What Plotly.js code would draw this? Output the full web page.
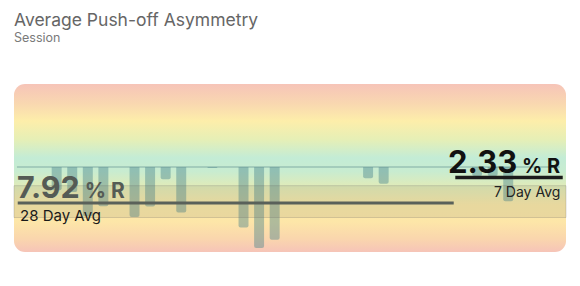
<!DOCTYPE html>
<html>
<head>
<meta charset="utf-8">
<script src="https://cdn.plot.ly/plotly-3.0.1.min.js"></script>
<style>
  html, body { margin: 0; padding: 0; background: #fff; }
  #chart { width: 580px; height: 286px; }
</style>
</head>
<body>
<div id="chart"></div>
<script>
// ---- data ----
// day index within the 35-day window (0..34) that had a session
const sessionDays = [2, 3, 4, 5, 7, 8, 9, 10, 12, 14, 15, 16, 22, 23, 29, 30, 31];
// push-off asymmetry per session, % toward R
const asymmetry = [5.1, 5.5, 10.8, 8.6, 11.0, 8.7, 2.7, 10.0, 0.2, 13.3, 17.8, 16.0, 2.5, 3.7, 2.0, 2.0, 7.5];
// averages
const avgLabels = ["28 Day Avg", "7 Day Avg"];
const avgValues = [7.92, 2.33];
const avgWindows = [[-0.5, 27.5], [27.5, 34.5]];
// typical range band around the 28 day average
const band28 = [4.1, 11.1];
const unitLabel = "% R";
const titleText = "Average Push-off Asymmetry";
const subtitleText = "Session";

// ---- geometry helpers (plot area = card) ----
const W = 580, H = 286;
const L = 14, R = 566, T = 84, B = 252;
const px = x => (x - L) / (R - L);
const py = y => (B - y) / (B - T);

// background card gradient
const stops = [
  [0.00, '#f6c4b8'], [0.12, '#f9d8b0'], [0.22, '#fdeeaa'], [0.33, '#e6efb6'],
  [0.44, '#c3ecd6'], [0.52, '#c8ecd0'], [0.62, '#e3ebb6'], [0.72, '#fbe9a8'],
  [0.82, '#fde6a8'], [0.92, '#fad6ad'], [1.00, '#f6c4b8']
].map(s => `<stop offset='${s[0]}' stop-color='${s[1]}'/>`).join('');
const svg = `<svg xmlns='http://www.w3.org/2000/svg' width='552' height='168' viewBox='0 0 552 168' preserveAspectRatio='none'><defs><linearGradient id='g' x1='0' y1='0' x2='0' y2='1'>${stops}</linearGradient></defs><rect x='0' y='0' width='552' height='168' rx='11' ry='11' fill='url(#g)'/></svg>`;
const bgSrc = 'data:image/svg+xml;charset=utf-8,' + encodeURIComponent(svg);

const bars = {
  type: 'bar',
  x: sessionDays,
  y: asymmetry,
  width: 0.64,
  marker: { color: 'rgba(70,128,138,0.42)', cornerradius: 2, line: { width: 0 } },
  hoverinfo: 'skip'
};

const FONT = 'Inter, "Noto Sans", sans-serif';

const shapes = [
  // zero baseline
  { type: 'line', xref: 'x', yref: 'y', x0: -0.55, x1: 34.3, y0: 0, y1: 0,
    line: { color: 'rgba(95,145,145,0.45)', width: 1.5 }, layer: 'above' },
  // band
  { type: 'rect', xref: 'paper', yref: 'y', x0: 0, x1: 1, y0: band28[0], y1: band28[1],
    fillcolor: 'rgba(110,110,90,0.13)', line: { color: 'rgba(100,100,100,0.24)', width: 1 }, layer: 'above' },
  // 28 day avg line
  { type: 'line', xref: 'x', yref: 'y', x0: avgWindows[0][0], x1: avgWindows[0][1], y0: avgValues[0], y1: avgValues[0],
    line: { color: '#5a615a', width: 3 }, layer: 'above' },
  // 7 day avg line
  { type: 'line', xref: 'x', yref: 'y', x0: avgWindows[1][0] + 0.1, x1: avgWindows[1][1], y0: avgValues[1], y1: avgValues[1],
    line: { color: '#1b1b1b', width: 3.5 }, layer: 'above' }
];

const ann = (text, x, y, xanchor, size, color, weight) => ({
  text, xref: 'paper', yref: 'paper', x: px(x), y: py(y), xanchor, yanchor: 'top',
  showarrow: false, font: { family: FONT, size, color, weight: weight || 400 }
});

const annotations = [
  ann(titleText, 12, 7, 'left', 17.5, '#666666'),
  ann(subtitleText, 12, 27.5, 'left', 12.5, '#7a7a7a'),
  ann(avgValues[0].toFixed(2) + '<span style="font-size:21px"> ' + unitLabel + '</span>', 15, 166, 'left', 30.5, '#555b55', 700),
  ann(avgLabels[0], 18, 204, 'left', 15, '#1a1a1a'),
  ann(avgValues[1].toFixed(2) + '<span style="font-size:20px"> ' + unitLabel + '</span>', 562, 141, 'right', 31, '#111111', 700),
  ann(avgLabels[1], 562, 180.5, 'right', 14, '#222222')
];

const layout = {
  width: W, height: H,
  margin: { l: L, r: W - R, t: T, b: H - B, pad: 0 },
  paper_bgcolor: '#ffffff',
  plot_bgcolor: 'rgba(0,0,0,0)',
  showlegend: false,
  xaxis: { range: [-0.74, 34.71], visible: false, fixedrange: true },
  yaxis: { range: [18.68, -18.24], visible: false, fixedrange: true },
  images: [{ source: bgSrc, xref: 'paper', yref: 'paper', x: 0, y: 1, sizex: 1, sizey: 1,
             xanchor: 'left', yanchor: 'top', sizing: 'stretch', layer: 'below' }],
  shapes, annotations
};

Plotly.newPlot('chart', [bars], layout, { staticPlot: true, displayModeBar: false });
</script>
</body>
</html>
